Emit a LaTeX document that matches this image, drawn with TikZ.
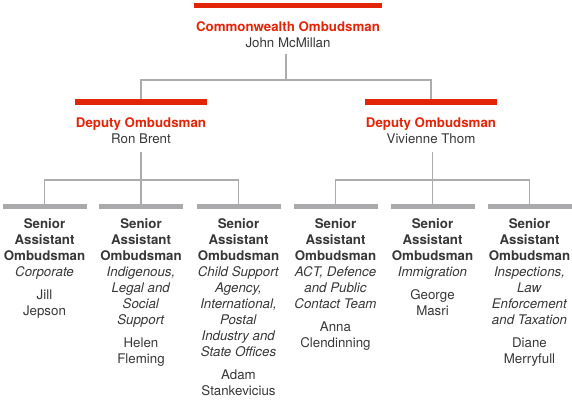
\documentclass[tikz,border=0pt]{standalone}
\usepackage{fontspec}
\setmainfont{TeX Gyre Heros}
\definecolor{ored}{RGB}{226,36,8}
\definecolor{bargray}{RGB}{170,170,172}
\definecolor{linegray}{RGB}{172,172,172}
\definecolor{txt}{RGB}{55,55,55}
\newcommand\fs{\fontsize{13.3}{16}\selectfont}
\newcommand\rl{\rule{0pt}{10pt}}
\newcommand\rd[1]{{\color{ored}\bfseries #1}}
\tikzset{
  redbar/.style={fill=ored, draw=none, inner sep=0pt, minimum height=5.5pt, minimum width=132pt},
  graybar/.style={fill=bargray, draw=none, inner sep=0pt, minimum height=5pt, minimum width=84pt},
  conn/.style={draw=linegray, line width=1.2pt},
  label/.style={anchor=north, inner sep=0pt, align=center, font=\fs, text=txt},
}
\begin{document}
\begin{tikzpicture}[x=1pt,y=-1pt]
\useasboundingbox (0,0) rectangle (572,401);
% top
\node[redbar, minimum width=188pt] (cwbar) at (288,5.75) {};
\node[label] (cw) at (288,21.5) {\rl\rd{Commonwealth Ombudsman}\\John McMillan};
% deputies
\node[redbar] (d1bar) at (141,102) {};
\node[redbar] (d2bar) at (431,102) {};
\node[label] (d1) at (141,117) {\rl\rd{Deputy Ombudsman}\\Ron Brent};
\node[label] (d2) at (431,117) {\rl\rd{Deputy Ombudsman}\\Vivienne Thom};
% senior bars
\node[graybar] (s1bar) at (44.5,206.5) {};
\node[graybar] (s2bar) at (141,206.5) {};
\node[graybar] (s3bar) at (238.5,206.5) {};
\node[graybar] (s4bar) at (335.5,206.5) {};
\node[graybar] (s5bar) at (432.5,206.5) {};
\node[graybar] (s6bar) at (529.5,206.5) {};
% senior texts
\node[label] (s1) at (44.5,218) {\rl\textbf{Senior}\\\textbf{Assistant}\\\textbf{Ombudsman}\\\textit{Corporate}\\[7pt]Jill\\Jepson};
\node[label] (s2) at (141,218) {\rl\textbf{Senior}\\\textbf{Assistant}\\\textbf{Ombudsman}\\\textit{Indigenous,}\\\textit{Legal and}\\\textit{Social}\\\textit{Support}\\[7pt]Helen\\Fleming};
\node[label] (s3) at (238.5,218) {\rl\textbf{Senior}\\\textbf{Assistant}\\\textbf{Ombudsman}\\\textit{Child Support}\\\textit{Agency,}\\\textit{International,}\\\textit{Postal}\\\textit{Industry and}\\\textit{State Offices}\\[7pt]Adam\\Stankevicius};
\node[label] (s4) at (335.5,218) {\rl\textbf{Senior}\\\textbf{Assistant}\\\textbf{Ombudsman}\\\textit{ACT, Defence}\\\textit{and Public}\\\textit{Contact Team}\\[7pt]Anna\\Clendinning};
\node[label] (s5) at (432.5,218) {\rl\textbf{Senior}\\\textbf{Assistant}\\\textbf{Ombudsman}\\\textit{Immigration}\\[7pt]George\\Masri};
\node[label] (s6) at (529.5,218) {\rl\textbf{Senior}\\\textbf{Assistant}\\\textbf{Ombudsman}\\\textit{Inspections,}\\\textit{Law}\\\textit{Enforcement}\\\textit{and Taxation}\\[7pt]Diane\\Merryfull};
% connectors
\coordinate (h0) at (286,80);
\coordinate (c0) at (286,54);
\draw[conn] (c0) -- (h0);
\draw[conn] (d1bar.north) |- (h0) -| (d2bar.north);
\coordinate (h1) at (141,180);
\coordinate (h2) at (432.5,180);
\draw[conn] (d1.south) ++(0,8) -- (s2bar.north);
\draw[conn] (s1bar.north) |- (h1) -| (s3bar.north);
\draw[conn] (d2.south) ++(1.5,8) -- (s5bar.north);
\draw[conn] (s4bar.north) |- (h2) -| (s6bar.north);
\end{tikzpicture}
\end{document}
